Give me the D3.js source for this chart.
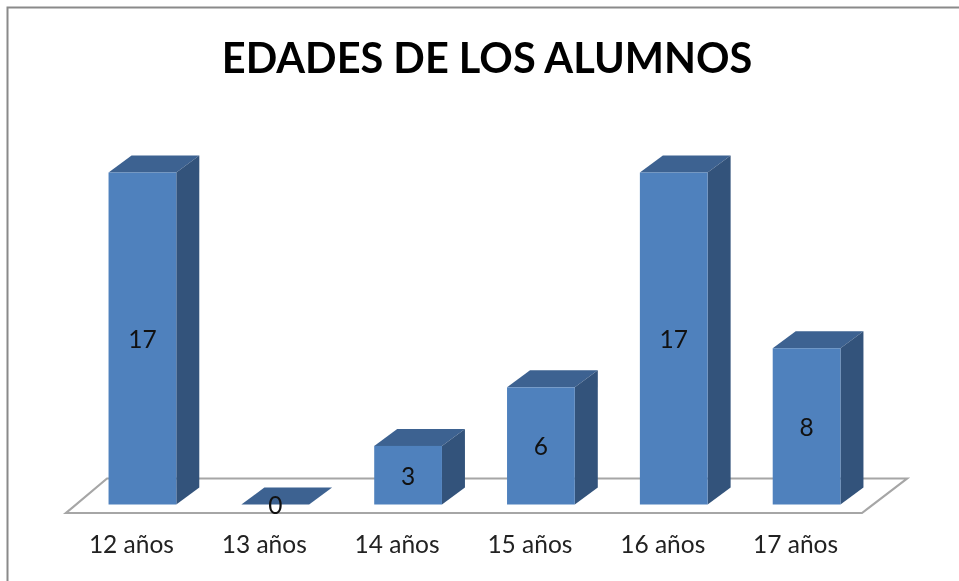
<!DOCTYPE html>
<html><head><meta charset="utf-8">
<script src="https://cdn.jsdelivr.net/npm/d3@7"></script>
<style>html,body{margin:0;padding:0;background:#fff}svg{display:block;filter:blur(0.4px)}text{font-family:Lato,"Open Sans",sans-serif}</style>
</head><body><svg id="c" width="959" height="581"></svg>
<script>
const categories = ["12 años","13 años","14 años","15 años","16 años","17 años"];
const values = [17,0,3,6,17,8];
const titleText = "EDADES DE LOS ALUMNOS";
const rows = categories.map((c,i)=>({c,v:values[i]}));
const svg = d3.select("#c");
const x = d3.scaleBand().domain(categories).range([76,873]).paddingInner(0.49).paddingOuter(0.245);
const y = d3.scaleLinear().domain([0,17]).range([504.5,172.5]);
const w = x.bandwidth(), dx=23, dy=17;
svg.append("path").attr("d","M7.5,581V7.5H959").attr("fill","none").attr("stroke","#8a8a8a").attr("stroke-width",2);
svg.append("path").attr("d","M66,513H862L907,478.5H107Z").attr("fill","#fff").attr("stroke","#a6a6a6").attr("stroke-width",2.2);
const g = svg.append("g").selectAll("g").data(rows).join("g");
g.append("path").attr("fill","#3d6291").attr("d",d=>`M${x(d.c)},${y(d.v)}l${dx},${-dy}h${w}l${-dx},${dy}Z`);
const solid = g.filter(d=>d.v>0);
solid.append("path").attr("fill","#33537b").attr("d",d=>`M${x(d.c)+w},${y(d.v)}l${dx},${-dy}V${y(0)-dy}l${-dx},${dy}Z`);
solid.append("rect").attr("fill","#4f81bd").attr("x",d=>x(d.c)).attr("width",w).attr("y",d=>y(d.v)).attr("height",d=>y(0)-y(d.v));
g.append("text").attr("x",d=>x(d.c)+w/2).attr("y",d=>(y(d.v)+y(0))/2+9.5).attr("text-anchor","middle").attr("font-size",24.5).attr("fill","#111").text(d=>d.v);
svg.append("g").selectAll("text").data(categories).join("text").attr("x",d=>x(d)+w/2-11).attr("y",553).attr("text-anchor","middle").attr("font-size",24.5).attr("fill","#222").text(d=>d);
svg.append("text").attr("x",487).attr("y",73).attr("text-anchor","middle").attr("font-size",41.5).attr("font-weight",700).attr("fill","#000").text(titleText);
</script></body></html>
